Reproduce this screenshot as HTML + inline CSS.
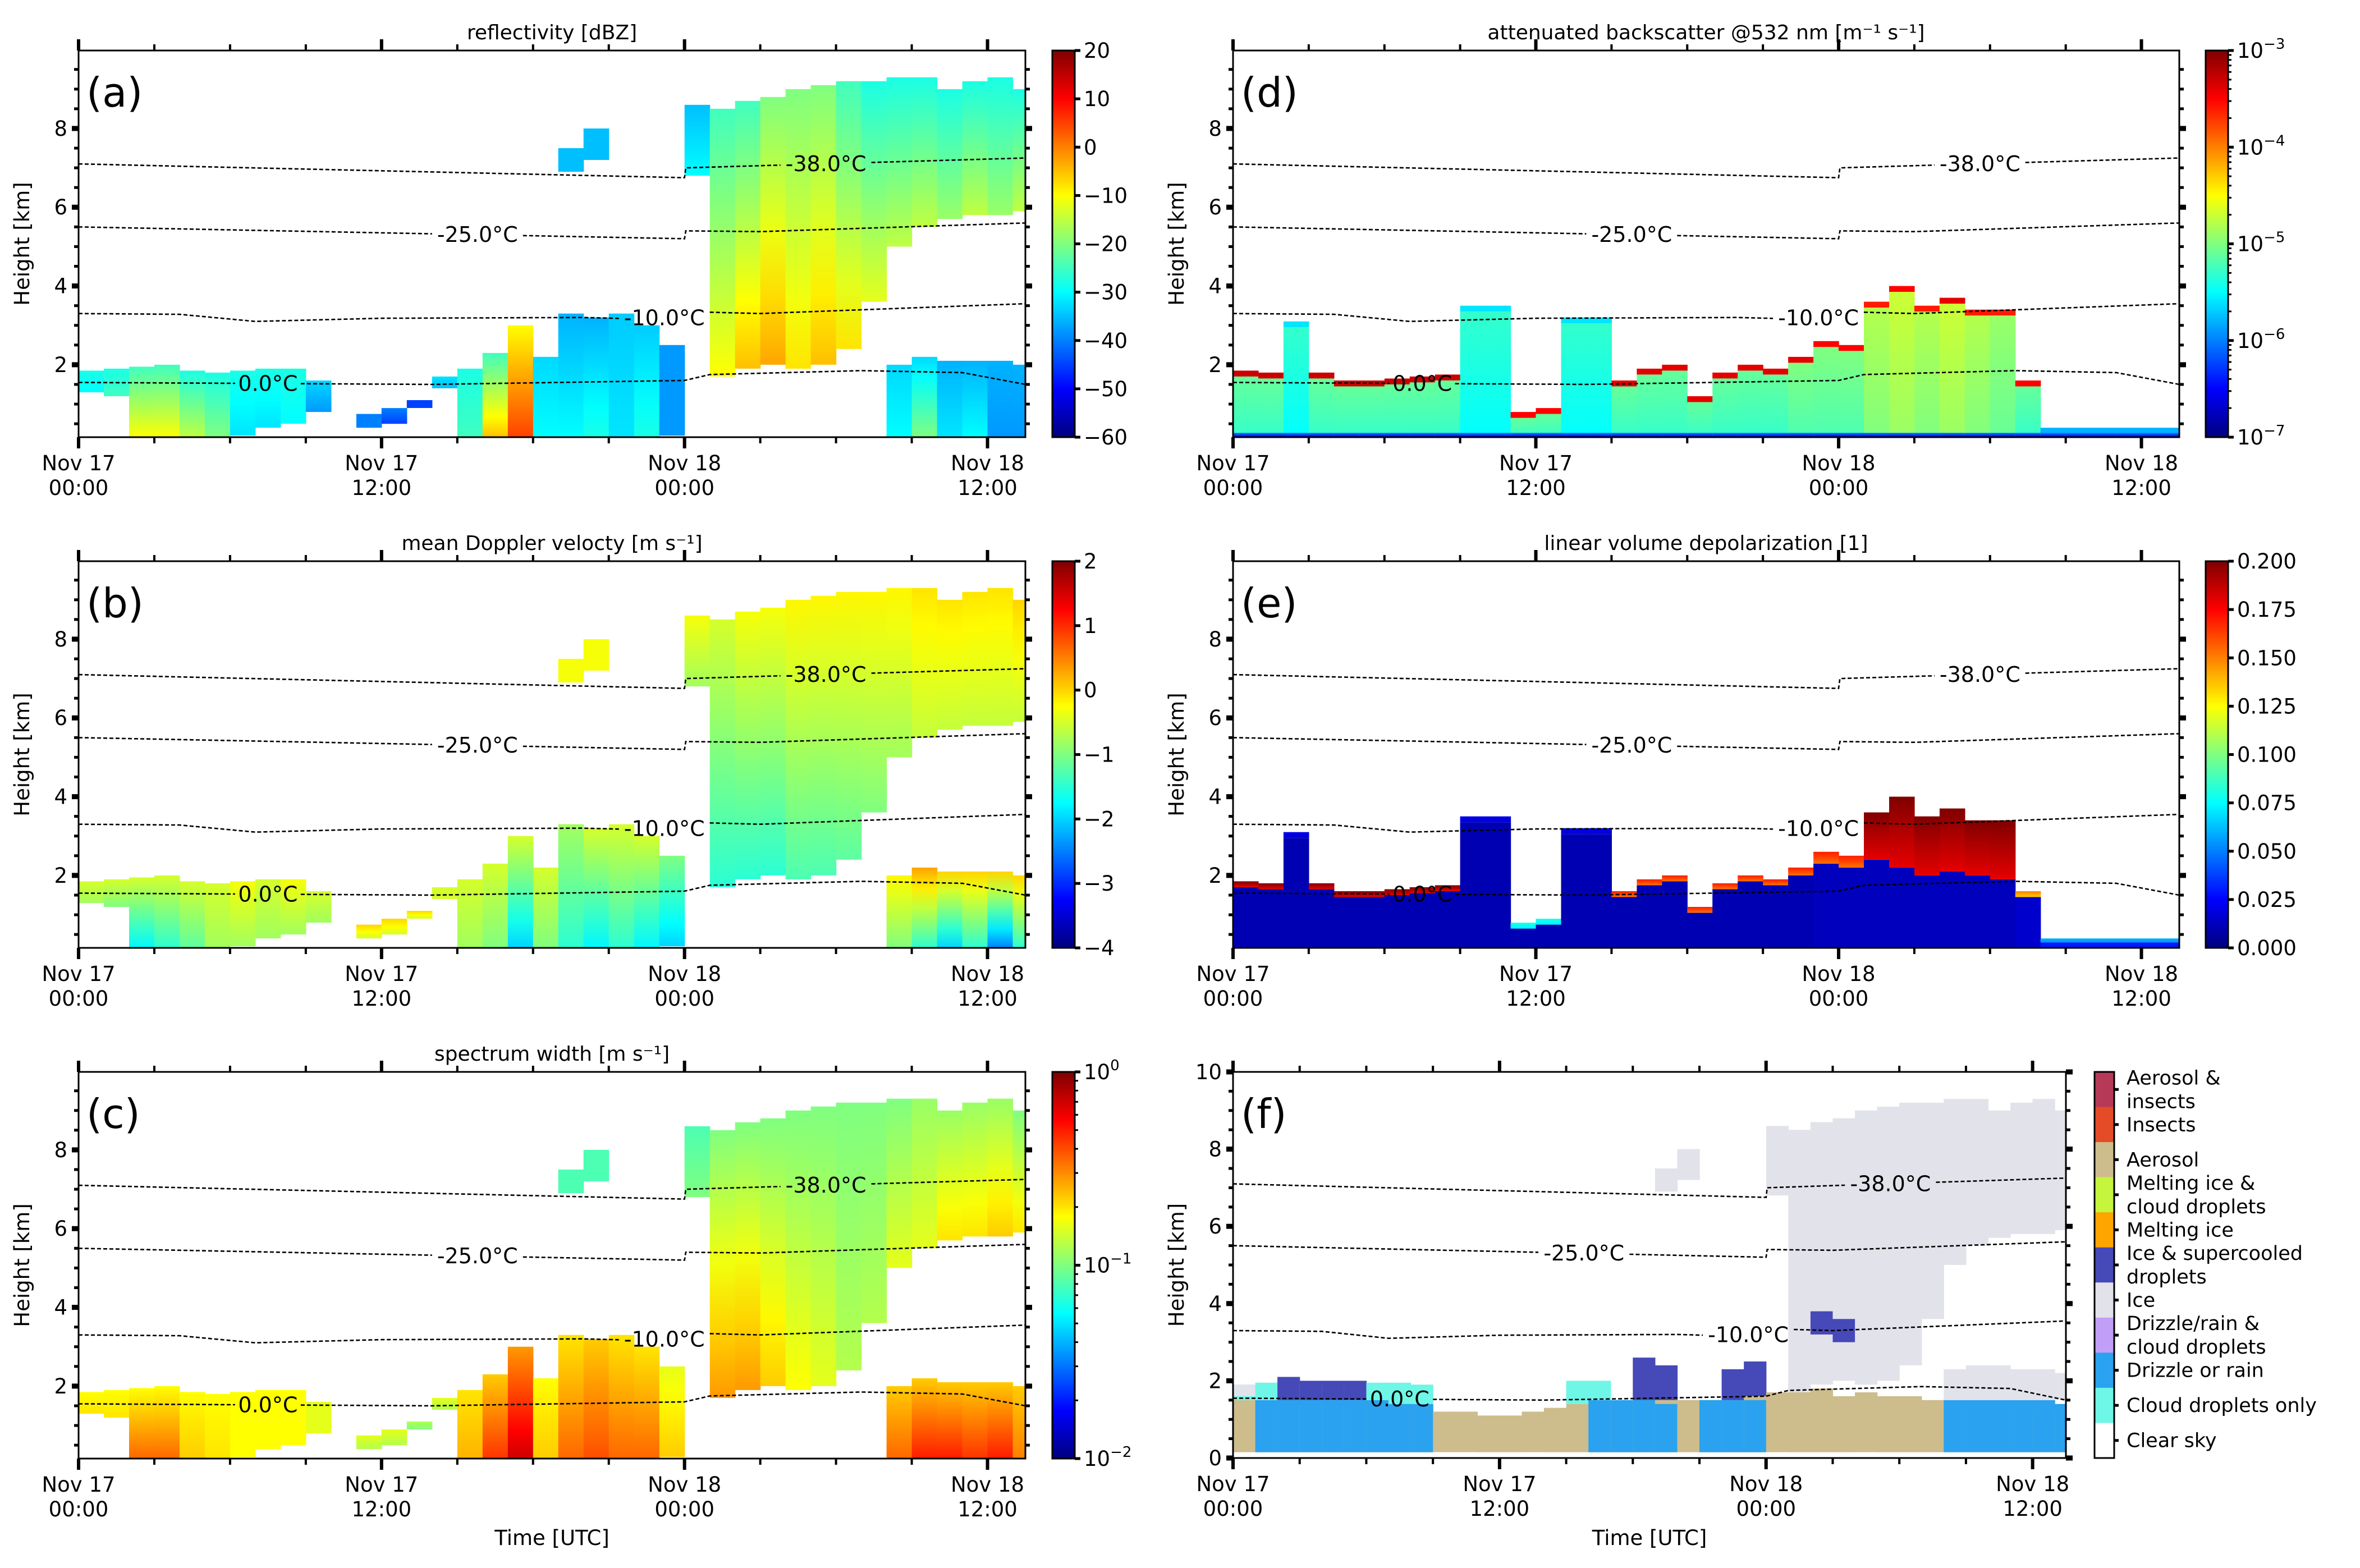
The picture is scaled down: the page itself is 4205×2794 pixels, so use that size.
<!DOCTYPE html>
<html><head><meta charset="utf-8"><title>Cloudnet time-height panels</title>
<style>
html,body{margin:0;padding:0;background:#fff;}
svg{display:block;font-family:"DejaVu Sans","Liberation Sans",sans-serif;}
</style></head>
<body>
<svg id="fig" xmlns="http://www.w3.org/2000/svg" width="4205" height="2794" viewBox="0 0 4205 2794">
<rect x="0" y="0" width="4205" height="2794" fill="#fff"/>
<defs id="defs"></defs>
</svg>
<script>
// ---------------- data (hourly columns, Nov 17 00:00 = hour 0) ----------------
const N = null;
const hours = [0,1,2,3,4,5,6,7,8,9,10,11,12,13,14,15,16,17,18,19,20,21,22,23,24,25,26,27,28,29,30,31,32,33,34,35,36,37];
// radar low-level cloud base/top [km]
const rLB = [1.3,1.2,0.15,0.15,0.15,0.15,0.2,0.4,0.5,0.8, N,0.4,0.5,0.9,1.4,0.15,0.15,0.15,0.15,0.15, 0.15,0.15,0.15,0.2,N,N,N,N,N,N, N,N,0.15,0.15,0.15,0.15,0.15,0.15];
const rLT = [1.85,1.9,1.95,2.0,1.85,1.8,1.85,1.9,1.9,1.6, N,0.75,0.9,1.1,1.7,1.9,2.3,3.0,2.2,3.3, 3.2,3.3,3.0,2.5,N,N,N,N,N,N, N,N,2.0,2.2,2.1,2.1,2.1,2.0];
// radar upper (ice) cloud base/top [km]
const rHB = [N,N,N,N,N,N,N,N,N,N, N,N,N,N,N,N,N,N,N,6.9, 7.2,N,N,N,6.8,1.7,1.9,2.0,1.9,2.0, 2.4,3.6,5.0,5.5,5.7,5.8,5.8,5.9];
const rHT = [N,N,N,N,N,N,N,N,N,N, N,N,N,N,N,N,N,N,N,7.5, 8.0,N,N,N,8.6,8.5,8.7,8.8,9.0,9.1, 9.2,9.2,9.3,9.3,9.0,9.2,9.3,9.0];
// (a) reflectivity dBZ, value at segment bottom / top
const aLB = [-30,-25,-10,-10,-15,-20,-32,-32,-30,-38, N,-40,-45,-45,-35,-25,-5,5,-30,-30, -28,-32,-28,-38,N,N,N,N,N,N, N,N,-30,-20,-32,-30,-38,-38];
const aLT = [-28,-28,-25,-25,-28,-28,-28,-28,-28,-33, N,-40,-40,-45,-32,-28,-25,-10,-33,-36, -36,-34,-34,-38,N,N,N,N,N,N, N,N,-33,-33,-36,-36,-36,-36];
const aHB = [N,N,N,N,N,N,N,N,N,N, N,N,N,N,N,N,N,N,N,-35, -35,N,N,N,-30,-10,-5,-3,-8,-5, -8,-12,-15,-15,-18,-15,-18,-15];
const aHT = [N,N,N,N,N,N,N,N,N,N, N,N,N,N,N,N,N,N,N,-35, -35,N,N,N,-35,-25,-25,-20,-20,-20, -25,-28,-28,-28,-28,-28,-28,-28];
// (b) mean Doppler velocity m/s
const bLB = [-0.8,-1,-1.8,-1.5,-1.2,-0.8,-0.8,-0.8,-0.8,-0.8, N,-0.5,-0.5,-0.5,-0.5,-0.8,-1,-2,-1,-1.5, -1.8,-1.5,-1.8,-2,N,N,N,N,N,N, N,N,-1,-1.5,-2,-1.5,-2.5,-1.5];
const bLT = [-0.5,-0.5,-0.5,-0.5,-0.5,-0.5,-0.3,-0.5,-0.3,-0.5, N,0,0,0,-0.5,-0.5,-0.5,-0.5,-0.5,-0.8, -0.5,-0.5,-0.5,-1,N,N,N,N,N,N, N,N,-0.2,0.3,0,0,0,0];
const bHB = [N,N,N,N,N,N,N,N,N,N, N,N,N,N,N,N,N,N,N,-0.3, -0.3,N,N,N,-0.8,-1.5,-1.5,-1.5,-1.3,-1.3, -1.2,-1,-0.8,-0.6,-0.6,-0.6,-0.6,-0.6];
const bHT = [N,N,N,N,N,N,N,N,N,N, N,N,N,N,N,N,N,N,N,-0.3, -0.3,N,N,N,-0.3,-0.5,-0.3,-0.3,-0.2,-0.2, -0.2,-0.2,-0.2,-0.1,-0.1,-0.1,-0.1,0];
// (c) spectrum width, log10(m/s)
const cLB = [-0.7,-0.7,-0.45,-0.45,-0.65,-0.7,-0.75,-0.75,-0.75,-0.8, N,-0.9,-0.9,-1,-0.9,-0.6,-0.35,-0.15,-0.65,-0.45, -0.4,-0.45,-0.45,-0.65,N,N,N,N,N,N, N,N,-0.45,-0.3,-0.3,-0.35,-0.3,-0.5];
const cLT = [-0.75,-0.75,-0.75,-0.75,-0.75,-0.75,-0.75,-0.75,-0.75,-0.8, N,-0.8,-0.8,-0.9,-0.8,-0.7,-0.65,-0.55,-0.75,-0.7, -0.65,-0.7,-0.7,-0.8,N,N,N,N,N,N, N,N,-0.65,-0.65,-0.65,-0.65,-0.65,-0.65];
const cHB = [N,N,N,N,N,N,N,N,N,N, N,N,N,N,N,N,N,N,N,-1.1, -1.1,N,N,N,-1.0,-0.55,-0.55,-0.65,-0.75,-0.8, -0.9,-0.9,-0.8,-0.8,-0.7,-0.7,-0.65,-0.7];
const cHT = [N,N,N,N,N,N,N,N,N,N, N,N,N,N,N,N,N,N,N,-1.1, -1.1,N,N,N,-1.1,-1.0,-1.0,-1.0,-1.0,-1.0, -1.0,-1.0,-1.0,-0.95,-0.95,-0.95,-0.95,-1.0];
// lidar signal top [km]
const lTop = [1.85,1.8,3.1,1.8,1.6,1.6,1.65,1.7,1.75,3.5, 3.5,0.8,0.9,3.2,3.2,1.6,1.9,2.0,1.2,1.8, 2.0,1.9,2.2,2.6,2.5,3.6,4.0,3.5,3.7,3.4, 3.4,1.6,0.4,0.4,0.4,0.4,0.4,0.4];
// (d) attenuated backscatter log10, fill and cloud-top cap
const dFill = [-5.3,-5.3,-5.5,-5.3,-5.3,-5.3,-5.3,-5.3,-5.3,-5.5, -5.5,-5.3,-5.3,-5.5,-5.5,-5.3,-5.3,-5.3,-5.3,-5.3, -5.3,-5.3,-5.2,-5.2,-5.2,-5.0,-4.9,-5.0,-4.9,-5.0, -5.1,-5.3,-5.3,-5.3,-5.3,-5.3,-5.3,-5.3];
const dCap = [-3.3,-3.3,-5.6,-3.3,-3.3,-3.3,-3.3,-3.3,-3.3,-5.6, -5.6,-3.5,-3.5,-5.6,-5.6,-3.4,-3.4,-3.4,-3.4,-3.4, -3.4,-3.4,-3.4,-3.5,-3.5,-3.6,-3.5,-3.6,-3.4,-3.6, -3.6,-3.5,-5.8,-5.8,-5.8,-5.8,-5.8,-5.8];
// (e) depolarization, fill / cap value and cap depth [km]
const eFill = [0.01,0.01,0.01,0.01,0.01,0.01,0.01,0.01,0.01,0.01, 0.01,0.01,0.01,0.01,0.01,0.01,0.01,0.01,0.01,0.01, 0.01,0.01,0.01,0.012,0.012,0.012,0.012,0.012,0.012,0.012, 0.012,0.015,0.03,0.03,0.03,0.03,0.03,0.03];
const eCap = [0.2,0.2,0.02,0.2,0.2,0.2,0.2,0.2,0.2,0.02, 0.02,0.08,0.08,0.02,0.02,0.17,0.17,0.17,0.17,0.17, 0.17,0.17,0.17,0.17,0.17,0.2,0.2,0.2,0.2,0.2, 0.2,0.15,0.06,0.06,0.06,0.06,0.06,0.06];
const eCapDepth = [0.15,0.15,0.15,0.15,0.15,0.15,0.15,0.15,0.15,0.15, 0.15,0.15,0.15,0.15,0.15,0.15,0.15,0.15,0.15,0.15, 0.15,0.15,0.2,0.3,0.3,1.2,1.8,1.5,1.6,1.4, 1.5,0.15,0.1,0.1,0.1,0.1,0.1,0.1];
// (f) classification layers [km]
const fAer = [1.5,1.4,1.4,1.4,1.4,1.4,1.4,1.4,1.3,1.2, 1.2,1.1,1.1,1.2,1.3,1.4,1.5,1.5,1.5,1.5, 1.5,1.5,1.5,1.6,1.7,2.0,1.8,1.6,1.7,1.6, 1.6,1.5,1.2,1.2,1.2,1.2,1.2,1.2];
const fRain = [N,1.5,1.5,1.5,1.5,1.5,1.5,1.4,1.4,N, N,N,N,N,N,N,1.5,1.5,1.5,1.4, N,1.5,1.5,1.5,N,N,N,N,N,N, N,N,1.5,1.5,1.5,1.5,1.5,1.4];
const fCld = [1.9,1.95,1.95,1.95,1.95,1.95,1.95,1.95,1.9,N, N,N,N,N,N,2.0,2.0,N,N,N, N,N,N,N,N,N,N,N,N,N, N,N,N,N,N,N,N,N];
const fSc = [N,N,2.1,2.0,2.0,2.0,N,N,N,N, N,N,N,N,N,N,N,N,2.6,2.4, N,N,2.3,2.5,N,N,N,N,N,N, N,N,N,N,N,N,N,N];
const fSc2B = [N,N,N,N,N,N,N,N,N,N, N,N,N,N,N,N,N,N,N,N, N,N,N,N,N,N,3.2,3.0,N,N, N,N,N,N,N,N,N,N];
const fSc2T = [N,N,N,N,N,N,N,N,N,N, N,N,N,N,N,N,N,N,N,N, N,N,N,N,N,N,3.8,3.6,N,N, N,N,N,N,N,N,N,N];
const fIce2B = [1.6,N,N,N,N,N,N,N,N,N, N,N,N,N,N,N,N,N,N,N, N,N,N,N,N,N,N,N,N,N, N,N,1.5,1.5,1.5,1.5,1.5,1.5];
const fIce2T = [1.9,N,N,N,N,N,N,N,N,N, N,N,N,N,N,N,N,N,N,N, N,N,N,N,N,N,N,N,N,N, N,N,2.3,2.4,2.4,2.3,2.3,2.2];
// isotherms
const iso38H = [0,24,24.05,37.5], iso38V = [7.1,6.75,7.0,7.25];
const iso25H = [0,24,24.05,27,37.5], iso25V = [5.5,5.2,5.4,5.38,5.6];
const iso10H = [0,4,7,12,20,23,24,27,37.5], iso10V = [3.3,3.28,3.1,3.18,3.2,3.15,3.35,3.3,3.55];
const iso0H = [0,14,24,25,31,35,37.5], iso0V = [1.55,1.5,1.6,1.75,1.85,1.8,1.5];
const isoLabels = ['-38.0°C','-25.0°C','-10.0°C','0.0°C'];
const isoLabelHour = [29.6,15.8,23.2,7.5];
// classification legend
const clsNames = [['Aerosol &','insects'],['Insects'],['Aerosol'],['Melting ice &','cloud droplets'],['Melting ice'],['Ice & supercooled','droplets'],['Ice'],['Drizzle/rain &','cloud droplets'],['Drizzle or rain'],['Cloud droplets only'],['Clear sky']];
const clsColors = ['#b63a58','#e44c27','#cdbc8c','#c5f53c','#ffa500','#4649b8','#e2e2ea','#c19ff7','#2aa2ef','#6ef6e6','#ffffff'];
// colorbar ticks
const cbA = [20,10,0,-10,-20,-30,-40,-50,-60];
const cbB = [2,1,0,-1,-2,-3,-4];
const cbC = [0,-1,-2];
const cbD = [-3,-4,-5,-6,-7];
const cbE = [0.2,0.175,0.15,0.125,0.1,0.075,0.05,0.025,0];

// ---------------- helpers ----------------
const NS = 'http://www.w3.org/2000/svg';
const svg = document.getElementById('fig');
const defs = document.getElementById('defs');
function el(tag, attrs, parent){ const e=document.createElementNS(NS,tag); for(const k in attrs) e.setAttribute(k, attrs[k]); (parent||svg).appendChild(e); return e; }
function cl(v){ return Math.max(0, Math.min(1, v)); }
function jet(t){ t=cl(t); const r=cl(1.5-Math.abs(4*t-3)), g=cl(1.5-Math.abs(4*t-2)), b=cl(1.5-Math.abs(4*t-1)); return 'rgb('+Math.round(r*255)+','+Math.round(g*255)+','+Math.round(b*255)+')'; }
let gid = 0;
function gradVert(c0, c1, steps, fn){
  const id='g'+(gid++);
  const g=el('linearGradient',{id:id,x1:0,y1:1,x2:0,y2:0},defs);
  for(let s=0;s<=steps;s++){ el('stop',{offset:(s/steps),'stop-color':fn(s/steps)},g); }
  return id;
}
const TMAX = 37.5;
const P = {
  a:{x:140,y:90,w:1687,h:689,ymin:0.16,ymax:9.98,title:'reflectivity [dBZ]',cbx:1875},
  b:{x:140,y:1000,w:1687,h:689,ymin:0.16,ymax:9.98,title:'mean Doppler velocty [m s\u207B\u00B9]',cbx:1875},
  c:{x:140,y:1910,w:1687,h:689,ymin:0.16,ymax:9.98,title:'spectrum width [m s\u207B\u00B9]',cbx:1875},
  d:{x:2197,y:90,w:1686,h:689,ymin:0.16,ymax:9.98,title:'attenuated backscatter @532 nm [m\u207B\u00B9 s\u207B\u00B9]',cbx:3930},
  e:{x:2197,y:1000,w:1686,h:689,ymin:0.16,ymax:9.98,title:'linear volume depolarization [1]',cbx:3930},
  f:{x:2197,y:1910,w:1484,h:688,ymin:0,ymax:10,title:'',cbx:3732}
};
function X(p,h){ return p.x + h/TMAX*p.w; }
function Y(p,km){ return p.y + (p.ymax-km)/(p.ymax-p.ymin)*p.h; }
function seg(g, p, i, bot, top, vb, vt, norm, name){
  if(bot===null||top===null||vb===null||vt===null) return;
  const h0=hours[i], h1=Math.min(hours[i]+1, TMAX);
  const id=gradVert(vb,vt,4,s=>jet(norm(vb+(vt-vb)*s)));
  const r=el('rect',{x:X(p,h0).toFixed(1),y:Y(p,top).toFixed(1),width:(X(p,h1)-X(p,h0)+0.6).toFixed(1),height:Math.max(0,Y(p,bot)-Y(p,top)).toFixed(1),fill:'url(#'+id+')'},g);
  
  
}
function solid(g, p, i, bot, top, color, name){
  if(bot===null||top===null) return;
  const h0=hours[i], h1=Math.min(hours[i]+1, TMAX);
  const r=el('rect',{x:X(p,h0).toFixed(1),y:Y(p,top).toFixed(1),width:(X(p,h1)-X(p,h0)+0.6).toFixed(1),height:Math.max(0,Y(p,bot)-Y(p,top)).toFixed(1),fill:color},g);
  
  
}
function interp(H,V,h){ for(let k=0;k<H.length-1;k++){ if(h>=H[k]&&h<=H[k+1]) return V[k]+(V[k+1]-V[k])*(h-H[k])/(H[k+1]-H[k]); } return V[V.length-1]; }

function drawPanel(key, letter){
  const p=P[key];
  const g=el('g',{});
  
  
  const dg=el('g',{},g);
  
  
  for(let i=0;i<hours.length;i++){
    if(key==='a'){ const n=v=>(v+60)/80; seg(dg,p,i,rLB[i],rLT[i],aLB[i],aLT[i],n,'low-cloud'); seg(dg,p,i,rHB[i],rHT[i],aHB[i],aHT[i],n,'ice-cloud'); }
    if(key==='b'){ const n=v=>(v+4)/6; seg(dg,p,i,rLB[i],rLT[i],bLB[i],bLT[i],n,'low-cloud'); seg(dg,p,i,rHB[i],rHT[i],bHB[i],bHT[i],n,'ice-cloud'); }
    if(key==='c'){ const n=v=>(v+2)/2; seg(dg,p,i,rLB[i],rLT[i],cLB[i],cLT[i],n,'low-cloud'); seg(dg,p,i,rHB[i],rHT[i],cHB[i],cHT[i],n,'ice-cloud'); }
    if(key==='d'){ const n=v=>(v+7)/4;
      seg(dg,p,i,0.15,lTop[i]-0.15,dFill[i],dFill[i]+0.2,n,'lidar-fill');
      seg(dg,p,i,lTop[i]-0.15,lTop[i],dCap[i],dCap[i],n,'lidar-cap');
      seg(dg,p,i,0.15,0.27,-6.6,-6.0,n,'lidar-base'); }
    if(key==='e'){ const n=v=>v/0.2;
      seg(dg,p,i,0.15,lTop[i]-eCapDepth[i],eFill[i],eFill[i],n,'depol-fill');
      seg(dg,p,i,lTop[i]-eCapDepth[i],lTop[i],eCap[i]*0.9,eCap[i],n,'depol-cap'); }
    if(key==='f'){
      solid(dg,p,i,0.15,fAer[i],clsColors[2],'aerosol');
      solid(dg,p,i,0.15,fRain[i],clsColors[8],'drizzle');
      if(fCld[i]!==null) solid(dg,p,i,Math.max(fAer[i],fRain[i]||0),fCld[i],clsColors[9],'cloud-droplets');
      if(fSc[i]!==null) solid(dg,p,i,Math.max(fAer[i],fRain[i]||0),fSc[i],clsColors[5],'ice-supercooled');
      solid(dg,p,i,rHB[i],rHT[i],clsColors[6],'ice');
      solid(dg,p,i,fIce2B[i],fIce2T[i],clsColors[6],'low-ice');
      solid(dg,p,i,fSc2B[i],fSc2T[i],clsColors[5],'ice-supercooled-upper');
    }
  }
  const isoH=[iso38H,iso25H,iso10H,iso0H], isoV=[iso38V,iso25V,iso10V,iso0V];
  for(let k=0;k<4;k++){
    const lh=isoLabelHour[k], lx=X(p,lh), ly=Y(p,interp(isoH[k],isoV[k],lh));
    const gapPx = (k===3?58:80);
    let pts1=[], pts2=[];
    for(let h=0;h<=TMAX+1e-6;h+=0.05){
      const px=X(p,h), py=Y(p,interp(isoH[k],isoV[k],h));
      if(px<lx-gapPx) pts1.push(px.toFixed(1)+','+py.toFixed(1)); else if(px>lx+gapPx) pts2.push(px.toFixed(1)+','+py.toFixed(1));
    }
    [pts1,pts2].forEach((pts,j)=>{ if(pts.length<2) return;
      const l=el('polyline',{points:pts.join(' '),fill:'none',stroke:'#000','stroke-width':2.6,'stroke-dasharray':'7,4'},g);
      
       });
    const t=el('text',{x:lx,y:ly+13,'text-anchor':'middle','font-size':38},g);
    t.textContent=isoLabels[k];
    
    
  }
  const fr=el('rect',{x:p.x,y:p.y,width:p.w,height:p.h,fill:'none',stroke:'#000','stroke-width':3},g);
  
  
  for(let h=0;h<=TMAX;h+=3){
    const major=(h%12===0), x=X(p,h), L=major?20:11, W=major?6:4;
    const t1=el('line',{x1:x,y1:p.y+p.h,x2:x,y2:p.y+p.h+L,stroke:'#000','stroke-width':W},g);
     
    const t2=el('line',{x1:x,y1:p.y,x2:x,y2:p.y-L,stroke:'#000','stroke-width':W},g);
     
    if(major){
      const tx=el('text',{x:x,y:p.y+p.h+59,'text-anchor':'middle','font-size':37},g);
       
      const s1=el('tspan',{x:x},tx); s1.textContent=(h<24?'Nov 17':'Nov 18');
      const s2=el('tspan',{x:x,dy:44},tx); s2.textContent=(h%24===0?'00:00':'12:00');
    }
  }
  const ystart = key==='f'?0:0.5;
  for(let v=ystart; v<=p.ymax+1e-6; v+=0.5){
    const major=(Math.abs(v%2)<1e-6), y=Y(p,v), L=major?12:8, W=major?9:5;
    const t1=el('line',{x1:p.x,y1:y,x2:p.x-L,y2:y,stroke:'#000','stroke-width':W},g);
     
    const t2=el('line',{x1:p.x+p.w,y1:y,x2:p.x+p.w+L,y2:y,stroke:'#000','stroke-width':W},g);
     
    if(major && (v>0 || key==='f')){
      const tl=el('text',{x:p.x-20,y:y+13,'text-anchor':'end','font-size':37},g);
      tl.textContent=String(v);
       
    }
  }
  const yl=el('text',{x:0,y:0,'text-anchor':'middle','font-size':37,transform:'translate('+(p.x-88)+','+(p.y+p.h/2)+') rotate(-90)'},g);
  yl.textContent='Height [km]';
   
  const pl=el('text',{x:p.x+14,y:p.y+100,'font-size':72},g);
  pl.textContent='('+letter+')';
   
  if(p.title){
    const tt=el('text',{x:p.x+p.w/2,y:p.y-20,'text-anchor':'middle','font-size':36},g);
    tt.textContent=p.title;
     
  }
  return g;
}

function colorbar(key, ticks, vmin, vmax, fmt, sup, minorLog){
  const p=P[key], w=40;
  const g=el('g',{});
  
  
  const id=gradVert(0,1,40,s=>jet(s));
  const r=el('rect',{x:p.cbx,y:p.y,width:w,height:p.h,fill:'url(#'+id+')',stroke:'#000','stroke-width':3},g);
   
  const yv=v=>p.y+(vmax-v)/(vmax-vmin)*p.h;
  ticks.forEach(v=>{
    const y=yv(v);
    const t=el('line',{x1:p.cbx+w,y1:y,x2:p.cbx+w+10,y2:y,stroke:'#000','stroke-width':5},g);
     
    const tx=el('text',{x:p.cbx+w+16,y:y+13,'font-size':37},g);
     
    if(sup){ const a=el('tspan',{},tx); a.textContent='10'; const b=el('tspan',{dy:-16,'font-size':26},tx); b.textContent=(v<0?'\u2212':'')+Math.abs(v); }
    else tx.textContent=fmt(v);
  });
  if(minorLog){
    for(let d=vmin; d<vmax; d++){ for(let m=2;m<=9;m++){ const y=yv(d+Math.log10(m));
      const t=el('line',{x1:p.cbx+w,y1:y,x2:p.cbx+w+6,y2:y,stroke:'#000','stroke-width':3},g);
        } }
  }
}

drawPanel('a','a'); drawPanel('b','b'); drawPanel('c','c');
drawPanel('d','d'); drawPanel('e','e'); drawPanel('f','f');
const mfmt=v=>(v<0?'\u2212':'')+Math.abs(v);
colorbar('a',cbA,-60,20,mfmt,false,false);
colorbar('b',cbB,-4,2,mfmt,false,false);
colorbar('c',cbC,-2,0,null,true,true);
colorbar('d',cbD,-7,-3,null,true,true);
colorbar('e',cbE,0,0.2,v=>v.toFixed(3),false,false);

(function(){
  const p=P.f, w=35, n=clsNames.length, sh=p.h/n;
  const g=el('g',{});
  
  
  clsNames.forEach((nm,k)=>{
    const y=p.y+k*sh;
    const r=el('rect',{x:p.cbx,y:y,width:w,height:sh+0.5,fill:clsColors[k]},g);
    
    
    const cy=y+sh/2;
    const t=el('line',{x1:p.cbx+w,y1:cy,x2:p.cbx+w+8,y2:cy,stroke:'#000','stroke-width':5},g);
     
    const tx=el('text',{x:p.cbx+w+22,y:cy+12-(nm.length-1)*21,'font-size':35},g);
     
    nm.forEach((line,j)=>{ const s=el('tspan',{x:p.cbx+w+22,dy:(j?42:0)},tx); s.textContent=line; });
  });
  const fr=el('rect',{x:p.cbx,y:p.y,width:w,height:p.h,fill:'none',stroke:'#000','stroke-width':3},g);
   
})();

[['c',P.c],['f',P.f]].forEach(([k,p])=>{
  const t=el('text',{x:p.x+p.w/2,y:2753,'text-anchor':'middle','font-size':37});
  t.textContent='Time [UTC]';
  
  
});
</script>
</body></html>
